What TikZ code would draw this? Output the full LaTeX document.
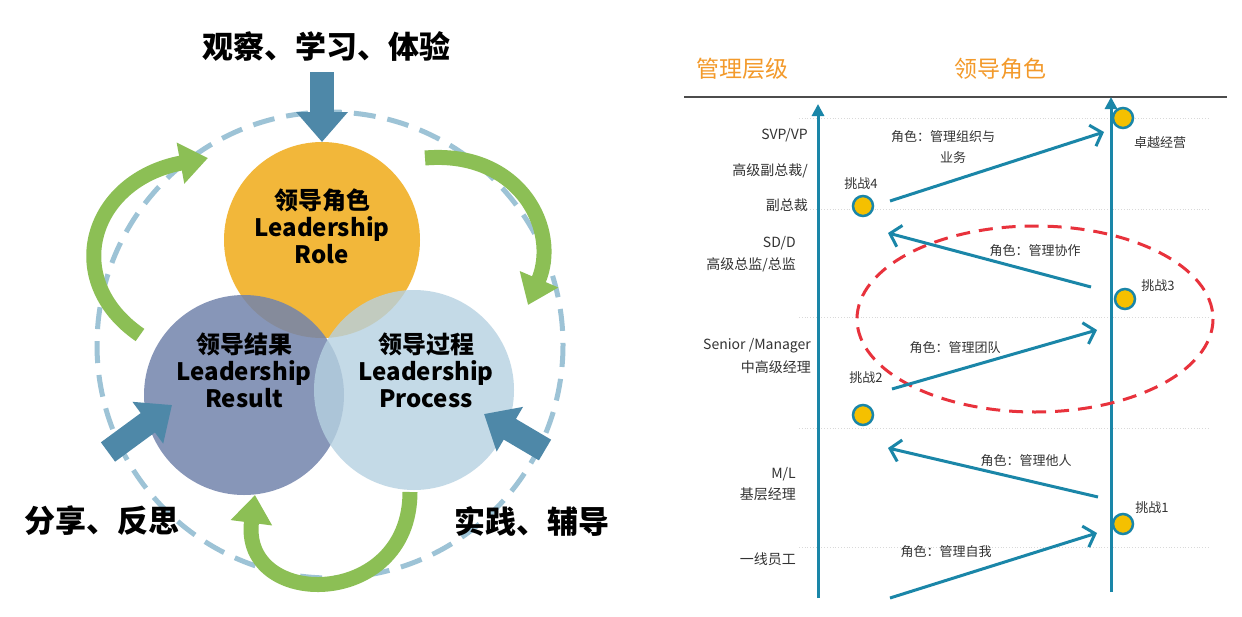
\documentclass[tikz,border=0pt]{standalone}
\usepackage{fontspec}
\setmainfont{Noto Sans CJK SC}
\usetikzlibrary{arrows.meta}
\definecolor{teal}{HTML}{1A86A8}
\definecolor{dashc}{HTML}{9DC3D6}
\definecolor{grn}{HTML}{8CBF55}
\definecolor{blu}{HTML}{4E88A8}
\definecolor{org}{HTML}{F39A2B}
\definecolor{yel}{HTML}{F5C000}
\definecolor{rolec}{HTML}{F2B73A}
\definecolor{resc}{HTML}{7384AC}
\definecolor{proc}{HTML}{B6D1E1}
\definecolor{redd}{HTML}{E8323C}
\tikzset{
  big/.style={font=\fontsize{31}{36}\selectfont\bfseries},
  clab/.style={font=\fontsize{24}{28}\selectfont\bfseries,align=center},
  title/.style={font=\fontsize{23}{27}\selectfont,text=org},
  lab/.style={font=\fontsize{13}{16}\selectfont,text=black!80,inner sep=1pt},
  lvl/.style={font=\fontsize{14}{17}\selectfont,text=black!80,anchor=east,inner sep=1pt},
  conn/.style={draw=teal,line width=3pt,-{Straight Barb[length=10pt,width=22pt,line width=3pt]}},
  dot/.style={circle,draw=teal,line width=2.5pt,fill=yel,minimum size=20pt,inner sep=0pt},
  garrow/.style={draw=grn,line width=15pt,-{Triangle[width=40pt,length=28pt]}},
  barrow/.style={draw=blu,line width=24pt,-{Triangle[width=50pt,length=30pt]}},
  hline/.style={draw=black!15,line width=0.8pt,dotted},
  axis/.style={draw=teal,line width=3pt,-{Triangle[width=12pt,length=12pt]}},
}
\begin{document}
\begin{tikzpicture}[x=1pt,y=-1pt]
\useasboundingbox[fill=white] (0,0) rectangle (1242,616);
% ---------- left diagram
\draw[dashc,line width=5pt,dash pattern=on 22pt off 12pt] (330,345) circle[radius=233];
\fill[rolec] (322,240) circle[radius=98];
\fill[resc,opacity=0.85] (244,395) circle[radius=100];
\fill[proc,opacity=0.8] (414,390) circle[radius=100];
\node[clab] (role) at (322,226) {领导角色\\[-1pt]Leadership\\[-1pt]Role};
\node[clab] (res) at (244,370) {领导结果\\[-1pt]Leadership\\[-1pt]Result};
\node[clab] (pro) at (426,370) {领导过程\\[-1pt]Leadership\\[-1pt]Process};
\node[big] (t1) at (326,46) {观察、学习、体验};
\node[big] (t2) at (102,521) {分享、反思};
\node[big] (t3) at (532,521) {实践、辅导};
\coordinate (g1a) at (140,335); \coordinate (g1b) at (208,158);
\coordinate (g2a) at (425,158); \coordinate (g2b) at (528,305);
\coordinate (g3a) at (410,492); \coordinate (g3b) at (255,495);
\draw[garrow] (g1a) .. controls (60,280) and (90,180) .. (g1b);
\draw[garrow] (g2a) .. controls (520,150) and (560,230) .. (g2b);
\draw[garrow] (g3a) .. controls (410,610) and (240,610) .. (g3b);
\coordinate (b1) at (322,72); \coordinate (b2) at (108,452); \coordinate (b3) at (545,450);
\draw[barrow] (b1) -- (322,142);
\draw[barrow] (b2) -- (172,405);
\draw[barrow] (b3) -- (484,414);
% ---------- right diagram
\node[title] (h1) at (742,69) {管理层级};
\node[title] (h2) at (1000,69) {领导角色};
\draw[black!70,line width=2.5pt] (684,97) -- (1227,97);
\foreach \yy in {118,209,317,428,547} \draw[hline] (799,\yy) -- (1208,\yy);
\draw[axis] (818,598) -- (818,104);
\draw[axis] (1111,592) -- (1111,97);
\draw[redd,line width=3pt,dash pattern=on 14pt off 9pt] (1035,319) ellipse[x radius=178,y radius=93];
\node[dot] (c5) at (1123,118) {};
\node[dot] (c4) at (863,206) {};
\node[dot] (c3) at (1125,299) {};
\node[dot] (c2) at (863,415) {};
\node[dot] (c1) at (1123,524) {};
\coordinate (a1s) at (890,598); \coordinate (a1e) at (1097,533);
\coordinate (a2s) at (1098,497); \coordinate (a2e) at (888,448);
\coordinate (a3s) at (892,389); \coordinate (a3e) at (1097,330);
\coordinate (a4s) at (1091,287); \coordinate (a4e) at (888,233);
\coordinate (a5s) at (890,201); \coordinate (a5e) at (1104,132);
\draw[conn] (a1s) -- (a1e);
\draw[conn] (a2s) -- (a2e);
\draw[conn] (a3s) -- (a3e);
\draw[conn] (a4s) -- (a4e);
\draw[conn] (a5s) -- (a5e);
\node[lab,anchor=west] (r5) at (890,137) {角色：管理组织与};
\node[lab,anchor=west] (r5b) at (939,158) {业务};
\node[lab] (top) at (1160,143) {卓越经营};
\node[lab] (ch4) at (861,184) {挑战4};
\node[lab] (r4) at (1035,251) {角色：管理协作};
\node[lab] (ch3) at (1158,286) {挑战3};
\node[lab] (r3) at (955,348) {角色：管理团队};
\node[lab] (ch2) at (866,378) {挑战2};
\node[lab] (r2) at (1026,461) {角色：管理他人};
\node[lab] (ch1) at (1152,508) {挑战1};
\node[lab] (r1) at (946,552) {角色：管理自我};
\node[lvl] at (809,135) {SVP/VP};
\node[lvl] at (809,171) {高级副总裁/};
\node[lvl] at (809,205) {副总裁};
\node[lvl] at (797,243) {SD/D};
\node[lvl] at (797,265) {高级总监/总监};
\node[lvl] at (812,346) {Senior /Manager};
\node[lvl] at (812,367) {中高级经理};
\node[lvl] at (797,474) {M/L};
\node[lvl] at (797,494) {基层经理};
\node[lvl] at (797,559) {一线员工};
\end{tikzpicture}
\end{document}
